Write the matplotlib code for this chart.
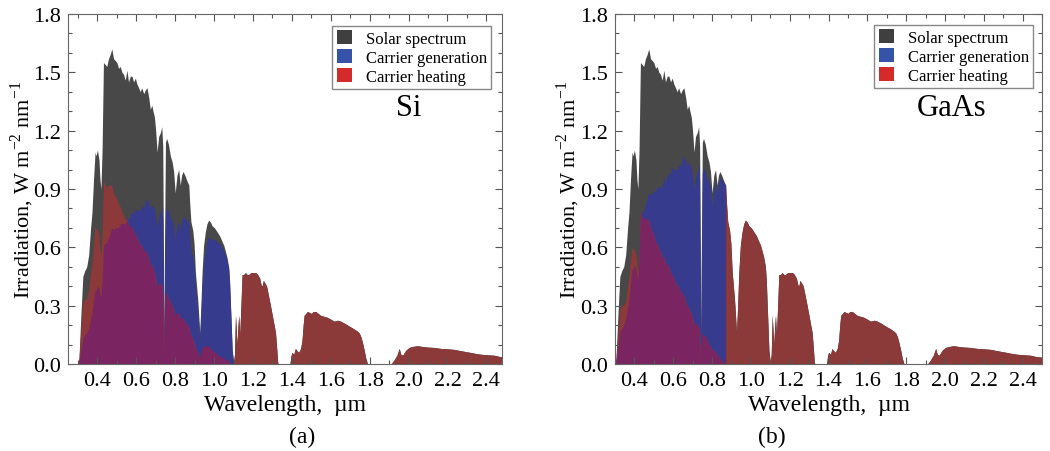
import matplotlib
matplotlib.use("Agg")
import matplotlib.pyplot as plt
from matplotlib.patches import Patch
from matplotlib.ticker import MultipleLocator, FormatStrFormatter

plt.rcParams['font.family'] = ['Liberation Serif', 'DejaVu Serif']
plt.rcParams['mathtext.fontset'] = 'custom'
plt.rcParams['mathtext.rm'] = 'Liberation Serif'

# Solar spectrum (um, W m-2 nm-1)
wavelength = [
    0.300, 0.305, 0.315, 0.325, 0.335, 0.345, 0.355, 0.365, 0.372, 0.380,
    0.388, 0.393, 0.400, 0.408, 0.413, 0.418, 0.424, 0.431, 0.440, 0.448,
    0.457, 0.465, 0.474, 0.483, 0.492, 0.500, 0.509, 0.517, 0.526, 0.534,
    0.543, 0.552, 0.560, 0.569, 0.578, 0.586, 0.595, 0.603, 0.612, 0.620,
    0.628, 0.638, 0.647, 0.655, 0.664, 0.672, 0.680, 0.686, 0.693, 0.698,
    0.703, 0.707, 0.715, 0.724, 0.731, 0.736, 0.740, 0.742, 0.745, 0.750,
    0.756, 0.765, 0.775, 0.784, 0.792, 0.800, 0.809, 0.818, 0.826, 0.833,
    0.840, 0.850, 0.861, 0.870, 0.875, 0.881, 0.890, 0.897, 0.904, 0.910,
    0.916, 0.921, 0.926, 0.932, 0.938, 0.946, 0.955, 0.963, 0.972, 0.981,
    0.990, 1.002, 1.015, 1.028, 1.041, 1.050, 1.058, 1.066, 1.075, 1.080,
    1.084, 1.089, 1.093, 1.100,
    1.105, 1.110, 1.114, 1.118, 1.123, 1.127, 1.132, 1.138, 1.144, 1.152,
    1.161, 1.170, 1.178, 1.190, 1.204, 1.215, 1.224, 1.235, 1.241, 1.247,
    1.253, 1.259, 1.265, 1.270, 1.280, 1.290, 1.303, 1.316, 1.322, 1.327,
    1.330, 1.390, 1.395, 1.400, 1.410, 1.418, 1.425, 1.435, 1.445, 1.452,
    1.458, 1.463, 1.472, 1.480, 1.500, 1.510, 1.522, 1.535, 1.548, 1.565,
    1.582, 1.600, 1.617, 1.635, 1.651, 1.670, 1.686, 1.703, 1.720, 1.735,
    1.746, 1.755, 1.763, 1.772, 1.780, 1.789, 1.910, 1.925, 1.940, 1.952,
    1.960, 1.970, 1.985, 2.003, 2.020, 2.046, 2.070, 2.097, 2.130, 2.166,
    2.200, 2.235, 2.270, 2.304, 2.340, 2.372, 2.410, 2.440, 2.470, 2.500,
]
solar = [
    0.00, 0.03, 0.25, 0.45, 0.48, 0.50, 0.56, 0.70, 0.78, 0.95,
    1.09, 1.07, 1.10, 1.05, 0.95, 0.90, 1.10, 1.55, 1.54, 1.53,
    1.57, 1.59, 1.62, 1.57, 1.56, 1.55, 1.52, 1.53, 1.50, 1.49,
    1.46, 1.51, 1.45, 1.48, 1.48, 1.45, 1.47, 1.44, 1.42, 1.40,
    1.42, 1.39, 1.41, 1.42, 1.37, 1.31, 1.33, 1.30, 1.27, 1.22,
    1.15, 1.09, 1.17, 1.19, 1.22, 1.12, 0.50, 0.12, 0.60, 1.14,
    1.16, 1.13, 1.07, 1.04, 0.99, 0.88, 0.97, 1.00, 0.92, 0.97,
    0.99, 0.97, 0.94, 0.92, 0.82, 0.73, 0.69, 0.62, 0.47, 0.40,
    0.33, 0.25, 0.16, 0.30, 0.47, 0.61, 0.68, 0.72, 0.74, 0.73,
    0.71, 0.70, 0.68, 0.66, 0.63, 0.61, 0.58, 0.55, 0.50, 0.42,
    0.31, 0.18, 0.07, 0.01,
    0.05, 0.25, 0.18, 0.10, 0.20, 0.25, 0.15, 0.30, 0.46, 0.46,
    0.47, 0.46, 0.46, 0.47, 0.47, 0.47, 0.46, 0.44, 0.41, 0.40,
    0.43, 0.42, 0.41, 0.40, 0.35, 0.30, 0.23, 0.16, 0.08, 0.01,
    0.00, 0.00, 0.04, 0.06, 0.05, 0.08, 0.07, 0.06, 0.08, 0.12,
    0.20, 0.25, 0.26, 0.27, 0.26, 0.27, 0.27, 0.26, 0.25, 0.245,
    0.24, 0.23, 0.22, 0.225, 0.22, 0.21, 0.20, 0.19, 0.18, 0.17,
    0.16, 0.14, 0.11, 0.07, 0.03, 0.00, 0.00, 0.02, 0.045, 0.08,
    0.05, 0.045, 0.07, 0.085, 0.09, 0.094, 0.09, 0.087, 0.085, 0.08,
    0.078, 0.075, 0.068, 0.062, 0.055, 0.05, 0.047, 0.045, 0.038, 0.035,
]

# Si: values up to the band gap at 1.10 um (beyond it all goes to heating)
si_gap_index = 103
si_generation = [
    0.00, 0.01, 0.07, 0.13, 0.15, 0.16, 0.18, 0.23, 0.26, 0.33,
    0.38, 0.38, 0.40, 0.39, 0.36, 0.34, 0.42, 0.61, 0.62, 0.62,
    0.65, 0.67, 0.70, 0.69, 0.70, 0.70, 0.70, 0.72, 0.72, 0.72,
    0.72, 0.76, 0.74, 0.77, 0.78, 0.77, 0.80, 0.79, 0.79, 0.79,
    0.81, 0.81, 0.83, 0.85, 0.83, 0.80, 0.82, 0.81, 0.80, 0.77,
    0.73, 0.70, 0.76, 0.78, 0.81, 0.75, 0.34, 0.08, 0.41, 0.78,
    0.80, 0.79, 0.75, 0.74, 0.71, 0.64, 0.71, 0.74, 0.69, 0.73,
    0.76, 0.75, 0.74, 0.73, 0.65, 0.58, 0.56, 0.51, 0.39, 0.33,
    0.27, 0.21, 0.13, 0.25, 0.40, 0.52, 0.59, 0.63, 0.65, 0.65,
    0.64, 0.64, 0.63, 0.62, 0.60, 0.58, 0.56, 0.53, 0.49, 0.41,
    0.31, 0.18, 0.07, 0.01,
]
si_heating = [
    0.00, 0.02, 0.18, 0.32, 0.33, 0.34, 0.38, 0.47, 0.52, 0.62,
    0.71, 0.69, 0.70, 0.66, 0.59, 0.56, 0.68, 0.94, 0.92, 0.91,
    0.92, 0.92, 0.92, 0.88, 0.86, 0.85, 0.82, 0.81, 0.78, 0.77,
    0.74, 0.75, 0.71, 0.71, 0.70, 0.68, 0.67, 0.65, 0.63, 0.61,
    0.61, 0.58, 0.58, 0.57, 0.54, 0.51, 0.51, 0.49, 0.47, 0.45,
    0.42, 0.39, 0.41, 0.41, 0.41, 0.37, 0.16, 0.04, 0.19, 0.36,
    0.36, 0.34, 0.32, 0.30, 0.28, 0.24, 0.26, 0.26, 0.23, 0.24,
    0.23, 0.22, 0.20, 0.19, 0.17, 0.15, 0.13, 0.11, 0.08, 0.07,
    0.06, 0.04, 0.03, 0.05, 0.07, 0.09, 0.09, 0.09, 0.09, 0.08,
    0.07, 0.06, 0.05, 0.04, 0.03, 0.03, 0.02, 0.02, 0.01, 0.01,
    0.00, 0.00, 0.00, 0.00,
]

# GaAs: values up to the band gap at 0.87 um
gaas_gap_index = 73
gaas_generation = [
    0.00, 0.01, 0.09, 0.17, 0.18, 0.20, 0.23, 0.29, 0.33, 0.41,
    0.49, 0.48, 0.51, 0.49, 0.45, 0.43, 0.54, 0.77, 0.78, 0.79,
    0.82, 0.85, 0.88, 0.87, 0.88, 0.89, 0.89, 0.91, 0.91, 0.91,
    0.91, 0.96, 0.93, 0.97, 0.98, 0.98, 1.01, 1.00, 1.00, 1.00,
    1.02, 1.02, 1.05, 1.07, 1.05, 1.01, 1.04, 1.03, 1.01, 0.98,
    0.93, 0.89, 0.96, 0.99, 1.03, 0.95, 0.43, 0.10, 0.51, 0.98,
    1.01, 0.99, 0.95, 0.94, 0.90, 0.81, 0.90, 0.94, 0.87, 0.93,
    0.96, 0.95, 0.93, 0.92,
]
gaas_heating = [
    0.00, 0.02, 0.16, 0.28, 0.30, 0.30, 0.33, 0.41, 0.45, 0.54,
    0.60, 0.59, 0.59, 0.56, 0.50, 0.47, 0.56, 0.78, 0.76, 0.74,
    0.75, 0.74, 0.74, 0.70, 0.68, 0.66, 0.63, 0.62, 0.59, 0.58,
    0.55, 0.55, 0.52, 0.51, 0.50, 0.47, 0.46, 0.44, 0.42, 0.40,
    0.40, 0.37, 0.36, 0.35, 0.32, 0.30, 0.29, 0.27, 0.26, 0.24,
    0.22, 0.20, 0.21, 0.20, 0.19, 0.17, 0.07, 0.02, 0.09, 0.16,
    0.15, 0.14, 0.12, 0.10, 0.09, 0.07, 0.07, 0.06, 0.05, 0.04,
    0.03, 0.02, 0.01, 0.00,
]

legend_labels = ['Solar spectrum', 'Carrier generation', 'Carrier heating']

GRAY = '#484848'
BLUE = '#363b8e'
RED = '#8b3939'
PURPLE = '#7a2461'
LEGEND_COLORS = ['#3f3f3f', '#3553a8', '#d42a2a']


def draw_panel(ax, generation, heating, gap, material, xlim, legend_anchor):
    ax.fill_between(wavelength, 0, solar, color=GRAY, lw=0)
    gen_x = wavelength[:gap + 1]
    ax.fill_between(gen_x, 0, generation, color=BLUE, lw=0)
    heat_x = wavelength[:gap + 1] + wavelength[gap:]
    heat_y = heating + solar[gap:]
    red = ax.fill_between(heat_x, 0, heat_y, color=RED, lw=0)
    # overlap of generation and heating shows as purple
    purple = ax.fill_between(gen_x, 0, generation, color=PURPLE, lw=0)
    purple.set_clip_path(red.get_paths()[0], ax.transData)

    ax.set_xlim(*xlim)
    ax.set_ylim(0, 1.8)
    ax.xaxis.set_major_locator(MultipleLocator(0.2))
    ax.xaxis.set_minor_locator(MultipleLocator(0.1))
    ax.yaxis.set_major_locator(MultipleLocator(0.3))
    ax.yaxis.set_minor_locator(MultipleLocator(0.1))
    ax.xaxis.set_major_formatter(FormatStrFormatter('%.1f'))
    ax.yaxis.set_major_formatter(FormatStrFormatter('%.1f'))
    ax.tick_params(which='both', direction='in', top=True, right=True,
                   color='#555555', width=0.8, labelsize=16)
    ax.tick_params(which='major', length=5, pad=5)
    ax.tick_params(which='minor', length=3)
    for s in ax.spines.values():
        s.set_color('#666666')
        s.set_linewidth(0.8)

    ax.set_xlabel('Wavelength,  \u00b5m', fontsize=17, labelpad=3)
    ax.set_ylabel(r'Irradiation, W m$^{\mathregular{-2}}$ nm$^{\mathregular{-1}}$',
                  fontsize=16, labelpad=-1.5)

    handles = [Patch(facecolor=c, edgecolor='none') for c in LEGEND_COLORS]
    ax.legend(handles, legend_labels, loc='upper right', bbox_to_anchor=legend_anchor,
              borderaxespad=0, fontsize=12, frameon=True, fancybox=False,
              edgecolor='#888888', framealpha=1, handlelength=0.95, handleheight=0.95,
              handletextpad=0.8, labelspacing=0.12, borderpad=0.25)
    ax.text(legend_anchor[0] - 0.19, 0.734, material, transform=ax.transAxes,
            fontsize=22, ha='center', va='center')


fig = plt.figure(figsize=(10.5, 4.52), dpi=100)
ax1 = fig.add_axes([0.065, 0.1925, 0.413, 0.7745])
ax2 = fig.add_axes([0.5857, 0.1925, 0.4067, 0.7745])

draw_panel(ax1, si_generation, si_heating, si_gap_index, 'Si', (0.25, 2.48), (0.975, 0.966))
draw_panel(ax2, gaas_generation, gaas_heating, gaas_gap_index, 'GaAs', (0.3, 2.5), (0.979, 0.969))

fig.text(0.288, 0.033, '(a)', fontsize=17, ha='center', va='center')
fig.text(0.735, 0.033, '(b)', fontsize=17, ha='center', va='center')

fig.savefig('out.png', dpi=100)
